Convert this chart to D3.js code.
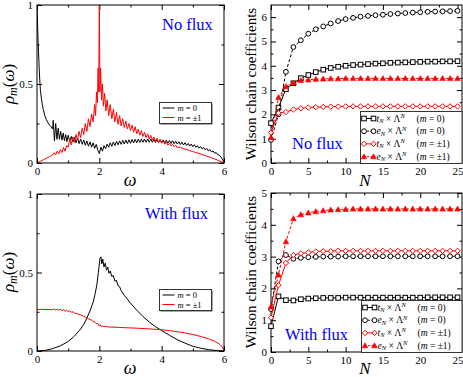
<html>
<head>
<meta charset="utf-8">
<script src="https://d3js.org/d3.v7.min.js"></script>
<style>
  body { margin: 0; background: #fff; }
  svg, svg text { font-family: "Liberation Serif", "Times New Roman", Times, "DejaVu Serif", serif; font-weight: normal; }
</style>
</head>
<body>
<div id="chart"></div>
<script>
// ---- spectral functions, [omega, rho] ----
var noFluxM0 = [[0,1.0],[0.015,0.9],[0.03,0.8],[0.05,0.7],[0.07,0.6],[0.09,0.52],[0.11,0.46],[0.14,0.41],[0.17,0.37],[0.2,0.34],[0.25,0.3],[0.3,0.275],[0.35,0.255],[0.4,0.24],[0.45,0.23],[0.5,0.215],
  [0.52,0.27],[0.56,0.14],[0.6,0.25],[0.64,0.15],[0.68,0.22],[0.72,0.15],[0.76,0.2],[0.8,0.145],[0.84,0.19],[0.88,0.14],[0.92,0.18],[0.96,0.135],[1.0,0.175],
  [1.05,0.138],[1.1,0.168],[1.15,0.133],[1.2,0.163],[1.25,0.128],[1.3,0.158],[1.35,0.123],[1.4,0.152],[1.45,0.118],[1.5,0.146],[1.55,0.112],[1.6,0.14],[1.65,0.106],[1.7,0.134],[1.75,0.1],[1.8,0.127],[1.85,0.093],[1.9,0.118],[1.95,0.082],[2.0,0.06],
  [2.05,0.1],[2.1,0.075],[2.15,0.11],[2.2,0.09],[2.25,0.12],[2.3,0.1],[2.35,0.128],[2.4,0.106],[2.45,0.133],[2.5,0.11],[2.55,0.137],[2.6,0.115],[2.65,0.14],[2.7,0.118],[2.75,0.143],[2.8,0.12],[2.85,0.145],[2.9,0.123],[2.95,0.147],[3.0,0.125],
  [3.05,0.149],[3.1,0.127],[3.15,0.15],[3.2,0.128],[3.25,0.151],[3.3,0.13],[3.35,0.152],[3.4,0.131],[3.45,0.152],[3.5,0.131],[3.55,0.152],[3.6,0.131],[3.65,0.151],[3.7,0.131],[3.75,0.15],[3.8,0.13],[3.85,0.149],[3.9,0.129],[3.95,0.148],[4.0,0.128],
  [4.05,0.146],[4.1,0.127],[4.15,0.145],[4.2,0.126],[4.25,0.143],[4.3,0.124],[4.35,0.141],[4.4,0.122],[4.45,0.138],[4.5,0.12],[4.55,0.135],[4.6,0.117],[4.65,0.132],[4.7,0.114],[4.75,0.128],[4.8,0.111],[4.85,0.124],[4.9,0.107],[4.95,0.12],
  [5.0,0.103],[5.05,0.116],[5.1,0.099],[5.15,0.11],[5.2,0.094],[5.25,0.104],[5.3,0.089],[5.35,0.098],[5.4,0.083],[5.45,0.092],[5.5,0.077],[5.55,0.085],[5.6,0.07],[5.65,0.076],[5.7,0.062],[5.75,0.066],[5.8,0.052],[5.85,0.05],[5.9,0.038],[5.95,0.025],[6.0,0.005]];

var noFluxM1 = [[0,0],[0.1,0.01],[0.2,0.02],[0.3,0.03],[0.4,0.04],[0.5,0.05],
  [0.55,0.065],[0.6,0.052],[0.65,0.075],[0.7,0.058],[0.75,0.085],[0.8,0.066],[0.85,0.098],[0.9,0.075],[0.95,0.11],[1.0,0.1],
  [1.05,0.15],[1.1,0.115],[1.15,0.165],[1.2,0.13],[1.25,0.18],[1.3,0.145],[1.35,0.2],[1.4,0.16],[1.45,0.22],[1.5,0.18],[1.55,0.25],[1.6,0.2],[1.65,0.28],[1.7,0.23],[1.75,0.31],[1.8,0.26],[1.85,0.37],[1.88,0.3],[1.91,0.45],[1.94,0.38],[1.96,0.6],[1.98,0.45],
  [2.0,1.0],[2.02,0.45],[2.04,0.6],[2.07,0.4],[2.1,0.5],[2.13,0.36],[2.17,0.44],[2.21,0.33],[2.25,0.4],[2.3,0.3],[2.35,0.37],[2.4,0.28],[2.45,0.34],[2.5,0.26],[2.55,0.32],[2.6,0.245],[2.65,0.3],[2.7,0.235],[2.75,0.28],[2.8,0.225],[2.85,0.265],[2.9,0.215],[2.95,0.25],
  [3.0,0.205],[3.05,0.24],[3.1,0.195],[3.15,0.23],[3.2,0.185],[3.25,0.215],[3.3,0.176],[3.35,0.205],[3.4,0.168],[3.45,0.195],[3.5,0.16],[3.55,0.185],[3.6,0.152],[3.65,0.175],[3.7,0.145],[3.75,0.165],[3.8,0.138],[3.85,0.156],[3.9,0.131],[3.95,0.148],
  [4.0,0.125],[4.05,0.14],[4.1,0.119],[4.15,0.132],[4.2,0.113],[4.25,0.125],[4.3,0.108],[4.35,0.118],[4.4,0.103],[4.45,0.112],[4.5,0.098],[4.6,0.1],[4.7,0.09],[4.8,0.085],[4.9,0.078],[5.0,0.072],[5.2,0.06],[5.4,0.047],[5.6,0.033],[5.8,0.018],[6.0,0.0]];

var withFluxM0 = [[0,0],[0.25,0.003],[0.5,0.015],[0.75,0.033],[1.0,0.06],[1.2,0.095],[1.4,0.14],[1.5,0.17],[1.6,0.21],[1.7,0.255],[1.8,0.31],[1.86,0.36],[1.92,0.42],[1.97,0.5],[2.02,0.59],
  [2.05,0.6],[2.08,0.555],[2.11,0.585],[2.15,0.535],[2.19,0.56],[2.23,0.515],[2.27,0.535],[2.31,0.495],[2.35,0.51],[2.4,0.475],[2.45,0.48],[2.5,0.445],[2.55,0.45],[2.6,0.415],[2.65,0.41],[2.7,0.385],
  [2.8,0.355],[2.9,0.33],[3.0,0.305],[3.2,0.26],[3.4,0.22],[3.6,0.185],[3.8,0.155],[4.0,0.13],[4.25,0.1],[4.5,0.072],[4.75,0.05],[5.0,0.03],[5.25,0.018],[5.5,0.009],[5.75,0.003],[6.0,0.0]];

var withFluxM1 = [[0,0.265],[0.2,0.265],[0.4,0.264],[0.5,0.263],[0.55,0.268],[0.6,0.26],[0.65,0.267],[0.7,0.259],[0.75,0.265],[0.8,0.257],[0.85,0.262],[0.9,0.254],[0.95,0.259],[1.0,0.251],[1.05,0.255],[1.1,0.247],[1.15,0.25],[1.2,0.242],
  [1.3,0.237],[1.4,0.23],[1.5,0.222],[1.6,0.212],[1.7,0.2],[1.75,0.197],[1.8,0.188],[1.85,0.186],[1.9,0.175],[1.95,0.175],[2.0,0.16],[2.03,0.168],[2.06,0.155],[2.1,0.16],[2.15,0.153],[2.2,0.157],
  [2.3,0.153],[2.5,0.152],[2.75,0.149],[3.0,0.147],[3.25,0.145],[3.5,0.142],[3.75,0.139],[4.0,0.135],[4.25,0.13],[4.5,0.123],[4.75,0.115],[5.0,0.105],[5.25,0.093],[5.5,0.078],[5.7,0.062],[5.85,0.045],[5.95,0.025],[6.0,0.005]];

// ---- Wilson chain coefficients ----
var chainN = [0,1,2,3,4,5,6,7,8,9,10,11,12,13,14,15,16,17,18,19,20,21,22,23,24,25];

var nfT0 = [1.64,2.28,3.04,3.28,3.49,3.62,3.74,3.84,3.91,3.96,4.0,4.03,4.05,4.07,4.09,4.1,4.12,4.13,4.14,4.15,4.16,4.17,4.17,4.18,4.18,4.19];
var nfE0 = [0.95,2.0,3.75,4.77,5.05,5.32,5.5,5.62,5.74,5.84,5.92,5.97,6.02,6.05,6.08,6.1,6.13,6.15,6.17,6.19,6.2,6.22,6.23,6.24,6.25,6.26];
var nfT1 = [1.25,2.05,2.1,2.2,2.25,2.28,2.3,2.31,2.32,2.32,2.33,2.33,2.33,2.33,2.33,2.33,2.33,2.33,2.33,2.33,2.33,2.33,2.33,2.33,2.33,2.33];
var nfE1 = [1.05,2.7,3.15,3.3,3.4,3.42,3.45,3.46,3.47,3.47,3.48,3.48,3.48,3.48,3.48,3.48,3.48,3.48,3.48,3.48,3.48,3.48,3.48,3.48,3.48,3.48];

var wfT0 = [0.81,1.75,1.63,1.62,1.66,1.68,1.69,1.7,1.7,1.7,1.71,1.71,1.71,1.71,1.71,1.71,1.71,1.71,1.71,1.71,1.71,1.72,1.72,1.72,1.72,1.72];
var wfE0 = [1.35,2.85,3.05,2.93,2.96,2.98,2.99,3.0,3.0,3.0,3.01,3.01,3.01,3.01,3.01,3.01,3.01,3.01,3.01,3.01,3.01,3.01,3.01,3.01,3.01,3.01];
var wfT1 = [1.08,2.1,2.8,3.05,3.1,3.13,3.16,3.17,3.17,3.18,3.18,3.18,3.18,3.18,3.18,3.18,3.18,3.18,3.18,3.18,3.18,3.18,3.18,3.18,3.18,3.18];
var wfE1 = [1.42,2.43,3.47,4.2,4.32,4.38,4.42,4.45,4.47,4.48,4.49,4.5,4.5,4.5,4.5,4.5,4.5,4.5,4.5,4.5,4.5,4.5,4.5,4.5,4.5,4.5];

var RED = "#ff0000", BLUE = "#0000ff";
var SERIF = '"Liberation Serif", "Times New Roman", Times, "DejaVu Serif", serif';

var svg = d3.select("#chart").append("svg")
    .attr("width", 463)
    .attr("height", 377)
    .attr("font-family", SERIF);

// frame + inward ticks on all four sides
function panel(box, xDom, yDom, xMajor, xMinor, yMajor, yMinor, xFmt, yFmt) {
    var x = d3.scaleLinear().domain(xDom).range([box.x0, box.x1]);
    var y = d3.scaleLinear().domain(yDom).range([box.y1, box.y0]);
    var g = svg.append("g");

    function ax(gen, tv, size, fmt, tr) {
        var a = g.append("g").attr("transform", tr)
            .call(gen.tickValues(tv).tickSize(size).tickPadding(4).tickFormat(fmt));
        a.attr("font-family", SERIF).attr("font-size", 11);
        a.select(".domain").remove();
        a.selectAll("line").attr("stroke", "#000");
        a.selectAll("text").attr("fill", "#000").attr("font-family", SERIF);
        return a;
    }
    var none = function() { return ""; };
    ax(d3.axisBottom(x), xMajor, -5, xFmt, "translate(0," + box.y1 + ")");
    ax(d3.axisBottom(x), xMinor, -2.5, none, "translate(0," + box.y1 + ")");
    ax(d3.axisTop(x), xMajor, -5, none, "translate(0," + box.y0 + ")");
    ax(d3.axisTop(x), xMinor, -2.5, none, "translate(0," + box.y0 + ")");
    ax(d3.axisLeft(y), yMajor, -5, yFmt, "translate(" + box.x0 + ",0)");
    ax(d3.axisLeft(y), yMinor, -2.5, none, "translate(" + box.x0 + ",0)");
    ax(d3.axisRight(y), yMajor, -5, none, "translate(" + box.x1 + ",0)");
    ax(d3.axisRight(y), yMinor, -2.5, none, "translate(" + box.x1 + ",0)");

    var id = "clip" + Math.round(box.x0) + "_" + Math.round(box.y0);
    svg.append("clipPath").attr("id", id).append("rect")
        .attr("x", box.x0).attr("y", box.y0 - 1)
        .attr("width", box.x1 - box.x0).attr("height", box.y1 - box.y0 + 1);
    var plot = svg.append("g").attr("clip-path", "url(#" + id + ")");

    svg.append("rect")
        .attr("x", box.x0).attr("y", box.y0)
        .attr("width", box.x1 - box.x0).attr("height", box.y1 - box.y0)
        .attr("fill", "none").attr("stroke", "#000").attr("stroke-width", 1);

    return { x: x, y: y, plot: plot };
}

function fmtNum(d) { return d === 0 ? "0" : d3.format("~g")(d); }

function dosLine(p, data, color) {
    var line = d3.line()
        .x(function(d) { return p.x(d[0]); })
        .y(function(d) { return p.y(d[1]); });
    p.plot.append("path")
        .attr("d", line(data))
        .attr("fill", "none")
        .attr("stroke", color)
        .attr("stroke-width", 1)
        .attr("stroke-linejoin", "round");
}

function marker(g, kind, cx, cy, color) {
    if (kind === "square") {
        g.append("rect").attr("x", cx - 2.3).attr("y", cy - 2.3).attr("width", 4.6).attr("height", 4.6)
            .attr("fill", "#fff").attr("stroke", color).attr("stroke-width", 1);
    } else if (kind === "circle") {
        g.append("circle").attr("cx", cx).attr("cy", cy).attr("r", 2.4)
            .attr("fill", "#fff").attr("stroke", color).attr("stroke-width", 1);
    } else if (kind === "diamond") {
        g.append("path").attr("d", "M" + cx + "," + (cy - 2.7) + "L" + (cx + 2.7) + "," + cy + "L" + cx + "," + (cy + 2.7) + "L" + (cx - 2.7) + "," + cy + "Z")
            .attr("fill", "#fff").attr("stroke", color).attr("stroke-width", 1);
    } else {
        g.append("path").attr("d", "M" + cx + "," + (cy - 2.8) + "L" + (cx + 2.8) + "," + (cy + 2.2) + "L" + (cx - 2.8) + "," + (cy + 2.2) + "Z")
            .attr("fill", color).attr("stroke", color).attr("stroke-width", 0.6);
    }
}

function chainSeries(p, vals, kind, color, dashed) {
    var line = d3.line()
        .x(function(d, i) { return p.x(chainN[i]); })
        .y(function(d) { return p.y(d); });
    var g = svg.append("g");
    g.append("path")
        .attr("d", line(vals))
        .attr("fill", "none")
        .attr("stroke", color)
        .attr("stroke-width", 1)
        .attr("stroke-dasharray", dashed ? "3,2" : null);
    vals.forEach(function(v, i) { marker(g, kind, p.x(chainN[i]), p.y(v), color); });
}

function dosLegend(x0, y0) {
    var g = svg.append("g");
    g.append("rect").attr("x", x0 + 1).attr("y", y0 + 1).attr("width", 52).attr("height", 21)
        .attr("fill", "#555");
    g.append("rect").attr("x", x0).attr("y", y0).attr("width", 52).attr("height", 21)
        .attr("fill", "#fff").attr("stroke", "#333").attr("stroke-width", 1);
    [["0", "#000", 5.5], ["\u00b11", RED, 15]].forEach(function(r) {
        g.append("line").attr("x1", x0 + 3).attr("x2", x0 + 15)
            .attr("y1", y0 + r[2]).attr("y2", y0 + r[2])
            .attr("stroke", r[1]).attr("stroke-width", 1);
        var t = g.append("text").attr("x", x0 + 18).attr("y", y0 + r[2] + 3)
            .attr("font-size", 8.5).attr("fill", "#000");
        t.append("tspan").attr("font-style", "italic").text("m");
        t.append("tspan").text(" = " + r[0]);
    });
}

function chainLegend(x0, y0, w, rows) {
    var g = svg.append("g");
    g.append("rect").attr("x", x0).attr("y", y0).attr("width", w).attr("height", 52)
        .attr("fill", "#fff").attr("stroke", "#333").attr("stroke-width", 1);
    rows.forEach(function(r, i) {
        var yy = y0 + 7 + i * 12.7;
        g.append("line").attr("x1", x0 + 3).attr("x2", x0 + 13)
            .attr("y1", yy).attr("y2", yy)
            .attr("stroke", r.color).attr("stroke-width", 1)
            .attr("stroke-dasharray", r.dashed ? "2,1.5" : null);
        marker(g, r.kind, x0 + 3.5, yy, r.color);
        marker(g, r.kind, x0 + 13, yy, r.color);
        var t = g.append("text").attr("x", x0 + 16).attr("y", yy + 3).attr("font-size", 9.5).attr("fill", "#000");
        t.append("tspan").attr("font-style", "italic").text(r.sym);
        t.append("tspan").attr("font-style", "italic").attr("font-size", 6.5).attr("dy", 1.5).text("N");
        t.append("tspan").attr("dy", -1.5).text(" \u00d7 \u039b");
        t.append("tspan").attr("font-style", "italic").attr("font-size", 6.5).attr("dy", -3.5).text("N");
        var t2 = g.append("text").attr("x", x0 + 56).attr("y", yy + 3).attr("font-size", 9.5).attr("fill", "#000");
        t2.append("tspan").text("(");
        t2.append("tspan").attr("font-style", "italic").text("m");
        t2.append("tspan").text(" = " + r.m + ")");
    });
}

function label(x, y, txt, size, color, rot) {
    var t = svg.append("text").attr("font-size", size).attr("fill", color);
    if (rot) t.attr("transform", "translate(" + x + "," + y + ") rotate(-90)").attr("text-anchor", "middle");
    else t.attr("x", x).attr("y", y);
    return t.text(txt);
}

function rhoLabel(x, y) {
    var t = svg.append("text").attr("font-size", 17).attr("fill", "#000")
        .attr("transform", "translate(" + x + "," + y + ") rotate(-90)").attr("text-anchor", "middle");
    t.append("tspan").attr("font-style", "italic").text("\u03c1");
    t.append("tspan").attr("font-style", "italic").attr("font-size", 12).attr("dy", 3).text("m");
    t.append("tspan").attr("dy", -3).text("(");
    t.append("tspan").attr("font-style", "italic").text("\u03c9");
    t.append("tspan").text(")");
}

function omegaLabel(x, y) {
    label(x, y, "\u03c9", 18, "#000").attr("font-style", "italic").attr("text-anchor", "middle");
}

// ---------- top-left: no flux spectral function ----------
var pA = panel({ x0: 37, x1: 224, y0: 5, y1: 163 }, [0, 6], [0, 1],
    [0, 2, 4, 6], [1, 3, 5], [0, 0.5, 1], [0.25, 0.75], fmtNum, fmtNum);
dosLine(pA, noFluxM0, "#000");
dosLine(pA, noFluxM1, RED);
dosLegend(159.5, 102.5);
label(162, 30, "No flux", 16.5, BLUE);
rhoLabel(14, 84);
omegaLabel(130, 186);

// ---------- bottom-left: with flux spectral function ----------
var pB = panel({ x0: 37, x1: 224, y0: 194, y1: 351 }, [0, 6], [0, 1],
    [0, 2, 4, 6], [1, 3, 5], [0, 0.5, 1], [0.25, 0.75], fmtNum, fmtNum);
dosLine(pB, withFluxM0, "#000");
dosLine(pB, withFluxM1, RED);
dosLegend(159.5, 289.5);
label(145, 219, "With flux", 16.5, BLUE);
rhoLabel(14, 272);
omegaLabel(130, 374);

// ---------- top-right: no flux chain ----------
var pC = panel({ x0: 271, x1: 462, y0: 5, y1: 163 }, [0, 25.6], [0, 6.5],
    [0, 5, 10, 15, 20, 25], [2.5, 7.5, 12.5, 17.5, 22.5], [0, 1, 2, 3, 4, 5, 6],
    [0.5, 1.5, 2.5, 3.5, 4.5, 5.5], fmtNum, fmtNum);
chainSeries(pC, nfT0, "square", "#000", false);
chainSeries(pC, nfE0, "circle", "#000", true);
chainSeries(pC, nfT1, "diamond", RED, false);
chainSeries(pC, nfE1, "triangle", RED, true);
chainLegend(360.5, 111.5, 101.5, [
    { sym: "t", m: "0", kind: "square", color: "#000", dashed: false },
    { sym: "e", m: "0", kind: "circle", color: "#000", dashed: true },
    { sym: "t", m: "\u00b11", kind: "diamond", color: RED, dashed: false },
    { sym: "e", m: "\u00b11", kind: "triangle", color: RED, dashed: true }]);
label(292, 149, "No flux", 16.5, BLUE);
label(256, 84, "Wilson chain coefficients", 15, "#000", true);
label(365, 186, "N", 17, "#000").attr("font-style", "italic").attr("text-anchor", "middle");

// ---------- bottom-right: with flux chain ----------
var pD = panel({ x0: 271, x1: 462, y0: 193, y1: 352 }, [0, 25.6], [0, 5],
    [0, 5, 10, 15, 20, 25], [2.5, 7.5, 12.5, 17.5, 22.5], [0, 1, 2, 3, 4, 5],
    [0.5, 1.5, 2.5, 3.5, 4.5], fmtNum, fmtNum);
chainSeries(pD, wfT0, "square", "#000", false);
chainSeries(pD, wfE0, "circle", "#000", true);
chainSeries(pD, wfT1, "diamond", RED, false);
chainSeries(pD, wfE1, "triangle", RED, true);
chainLegend(361.5, 300.5, 100.5, [
    { sym: "t", m: "0", kind: "square", color: "#000", dashed: false },
    { sym: "e", m: "0", kind: "circle", color: "#000", dashed: true },
    { sym: "t", m: "\u00b11", kind: "diamond", color: RED, dashed: false },
    { sym: "e", m: "\u00b11", kind: "triangle", color: RED, dashed: true }]);
label(285, 340, "With flux", 16.5, BLUE);
label(256, 272, "Wilson chain coefficients", 15, "#000", true);
label(365, 374, "N", 17, "#000").attr("font-style", "italic").attr("text-anchor", "middle");
</script>
</body>
</html>
